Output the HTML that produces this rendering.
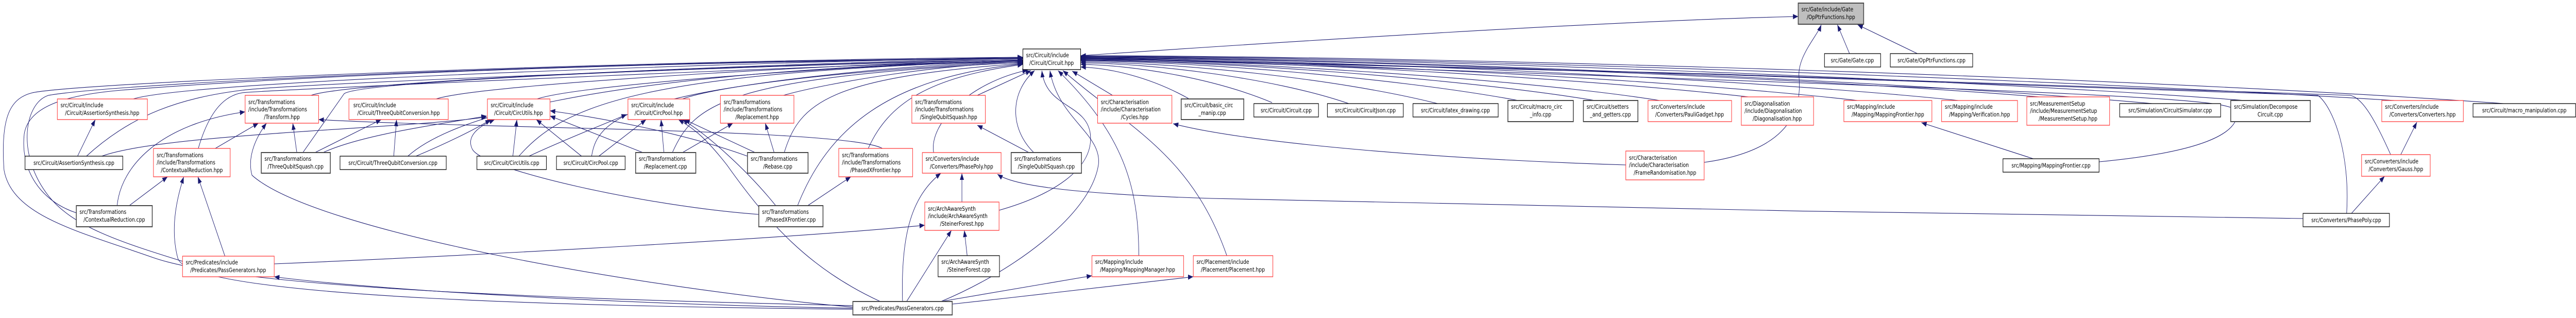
<!DOCTYPE html>
<html><head><meta charset="utf-8">
<style>
html,body{margin:0;padding:0;background:#fff;width:100%;height:100%;overflow:hidden;}
svg{display:block;width:100vw;height:100vh;}
text{font-family:"DejaVu Sans","Liberation Sans",sans-serif;font-size:11.8px;fill:#000;}
.r{fill:#fff;stroke:#ff3b3b;stroke-width:1.3;}
.b{fill:#fff;stroke:#000;stroke-width:1.3;}
.g{fill:#fff;stroke:#4a4a4a;stroke-width:2;}
.f{fill:#bfbfbf;stroke:#4a4a4a;stroke-width:2;}
.e{fill:none;stroke:#191970;stroke-width:1.1;marker-end:url(#a);}
</style></head><body>
<svg viewBox="0 0 6379 617" preserveAspectRatio="none" xmlns="http://www.w3.org/2000/svg">
<defs><marker id="a" markerWidth="14" markerHeight="12" refX="13" refY="5" orient="auto" markerUnits="userSpaceOnUse"><path d="M0,0 L13,5 L0,10z" fill="#191970"/></marker></defs>

<path class="e" d="M330,192 C500,150 2300,112 2533,112"/>
<path class="e" d="M770,185 C900,150 2300,114 2533,114"/>
<path class="e" d="M1080,192 C1200,160 2300,116 2533,116"/>
<path class="e" d="M1330,192 C1450,160 2300,118 2533,118"/>
<path class="e" d="M1690,192 C1800,160 2300,120 2533,120"/>
<path class="e" d="M1940,185 C2050,160 2350,122 2533,122"/>
<path class="e" d="M214,303 C330,220 450,190 600,175 S2300,116 2533,116"/>
<path class="e" d="M252,303 C400,260 1000,250 1205,227"/>
<path class="e" d="M189,413 C100,390 50,330 60,260 C70,210 150,185 300,175 C700,150 1500,120 2533,114"/>
<path class="e" d="M452,507 C300,470 180,440 120,380 C40,300 60,200 120,185 C300,160 1500,118 2533,113"/>
<path class="e" d="M2112,593 C1400,580 600,560 380,500 C200,450 30,420 10,330 C0,220 30,190 80,180 C200,160 1500,118 2533,111"/>
<path class="e" d="M750,296 L852,182 C900,150 2300,116 2533,116"/>
<path class="e" d="M735,296 L725,239"/>
<path class="e" d="M780,296 L944,232"/>
<path class="e" d="M800,296 C900,260 1100,240 1205,225"/>
<path class="e" d="M192,303 L236,232"/>
<path class="e" d="M533,288 L640,239"/>
<path class="e" d="M491,288 C520,210 560,185 600,180 S2300,118 2533,118"/>
<path class="e" d="M320,399 L415,343"/>
<path class="e" d="M290,399 C300,320 400,240 607,217"/>
<path class="e" d="M557,497 L490,343"/>
<path class="e" d="M2112,600 C1500,595 460,580 440,500 C420,440 440,380 455,343"/>
<path class="e" d="M2112,598 C1500,590 900,560 679,537"/>
<path class="e" d="M2112,596 C1600,560 780,450 624,340 C610,300 640,260 660,239"/>
<path class="e" d="M975,303 L982,232"/>
<path class="e" d="M1010,303 C1100,240 1400,140 2533,117"/>
<path class="e" d="M1030,303 C1100,280 1180,250 1215,232"/>
<path class="e" d="M1270,303 L1280,232"/>
<path class="e" d="M1310,303 C1400,270 1500,240 1552,222"/>
<path class="e" d="M1285,303 C1400,200 1600,140 2533,118"/>
<path class="e" d="M1440,303 L1328,232"/>
<path class="e" d="M1483,303 L1600,232"/>
<path class="e" d="M1465,303 C1480,230 1550,160 2533,119"/>
<path class="e" d="M1592,296 L1362,225"/>
<path class="e" d="M1644,296 L1637,232"/>
<path class="e" d="M1690,296 L1815,239"/>
<path class="e" d="M1665,296 C1720,200 1800,150 2533,121"/>
<path class="e" d="M1851,303 C1700,260 1500,230 1362,215"/>
<path class="e" d="M1870,296 L1695,232"/>
<path class="e" d="M1917,296 L1895,239"/>
<path class="e" d="M1942,296 C1980,200 2050,150 2533,123"/>
<path class="e" d="M2000,399 L2107,343"/>
<path class="e" d="M1879,416 C1600,400 1200,330 1170,290 C1150,260 1200,240 1225,232"/>
<path class="e" d="M1921,399 C1850,330 1750,260 1690,232"/>
<path class="e" d="M1975,399 C2050,250 2200,150 2533,124"/>
<path class="e" d="M2150,288 C2200,200 2300,150 2533,125"/>
<path class="e" d="M2185,288 C2100,250 1200,250 789,232"/>
<path class="e" d="M2180,585 C2000,520 1900,430 1800,320 C1750,270 1720,250 1680,232"/>
<path class="e" d="M2312,296 C2300,240 2400,160 2545,136"/>
<path class="e" d="M2420,185 L2553,137"/>
<path class="e" d="M2548,296 L2420,243"/>
<path class="e" d="M2560,296 C2500,250 2500,180 2562,137"/>
<path class="e" d="M2755,185 L2655,138"/>
<path class="e" d="M2382,392 L2382,336"/>
<path class="e" d="M2474,408 C2600,380 2710,330 2700,260 C2690,200 2590,210 2580,137"/>
<path class="e" d="M2245,585 L2356,447"/>
<path class="e" d="M2235,585 C2230,450 2260,380 2330,336"/>
<path class="e" d="M2395,496 L2388,447"/>
<path class="e" d="M2330,585 L2704,535"/>
<path class="e" d="M2358,590 C2600,570 2900,540 2955,537"/>
<path class="e" d="M2330,585 C2500,530 2700,420 2720,320 C2730,260 2620,230 2600,137"/>
<path class="e" d="M679,512 C1200,495 2000,460 2290,437"/>
<path class="e" d="M2820,496 C2820,360 2780,260 2620,137"/>
<path class="e" d="M3038,496 C2950,300 2800,250 2632,137"/>
<path class="e" d="M2945,192 C2850,150 2750,132 2676,130"/>
<path class="e" d="M3150,199 C3000,150 2800,126 2676,125"/>
<path class="e" d="M3340,201 C3150,150 2850,123 2676,122"/>
<path class="e" d="M3560,201 C3300,150 2900,121 2676,120"/>
<path class="e" d="M3760,195 C3450,150 2950,119 2676,118"/>
<path class="e" d="M3950,195 C3600,150 3000,118 2676,117"/>
<path class="e" d="M4110,195 C3750,150 3000,117 2676,116"/>
<path class="e" d="M4330,188 C3900,150 3100,116 2676,115"/>
<path class="e" d="M4600,195 C4100,150 3100,115 2676,114"/>
<path class="e" d="M4850,195 C4300,150 3200,114 2676,113"/>
<path class="e" d="M5050,188 C4450,150 3300,113 2676,112"/>
<path class="e" d="M5330,201 C4600,150 3300,112 2676,111"/>
<path class="e" d="M5560,195 C4800,150 3400,111 2676,110"/>
<path class="e" d="M5930,195 C5000,150 3500,110 2676,109"/>
<path class="e" d="M6200,201 C5300,150 3600,109 2676,108"/>
<path class="e" d="M4026,320 C3600,310 3100,280 2905,240"/>
<path class="e" d="M4220,315 C4450,290 4460,200 4455,150 C4450,110 4500,70 4510,48"/>
<path class="e" d="M4580,104 L4550,48"/>
<path class="e" d="M4748,104 L4600,48"/>
<path class="e" d="M2676,108 C3200,80 4000,40 4453,32"/>
<path class="e" d="M5035,308 L4758,238"/>
<path class="e" d="M5198,314 C5450,295 5540,260 5540,220 C5540,190 5400,185 2676,112"/>
<path class="e" d="M5823,414 L5905,342"/>
<path class="e" d="M5811,414 C5820,300 5780,210 5740,185 C5500,170 3000,115 2676,113"/>
<path class="e" d="M5703,424 C5000,420 3500,395 3000,385 C2600,375 2500,355 2470,338"/>
<path class="e" d="M5945,300 L5985,237"/>
<path class="e" d="M5920,300 C5880,230 5850,190 5820,185 C5500,170 3000,114 2676,112"/>

<rect class="b" x="2533" y="95" width="143" height="40"/><text x="2541" y="111">src/Circuit/include</text><text x="2604" y="126" text-anchor="middle">/Circuit/Circuit.hpp</text>

<rect class="r" x="142" y="192" width="223" height="40"/><text x="150" y="208">src/Circuit/include</text><text x="253" y="223" text-anchor="middle">/Circuit/AssertionSynthesis.hpp</text>
<rect class="r" x="607" y="185" width="182" height="54"/><text x="615" y="202">src/Transformations</text><text x="615" y="216">/include/Transformations</text><text x="698" y="231" text-anchor="middle">/Transform.hpp</text>
<rect class="r" x="864" y="192" width="246" height="40"/><text x="875" y="208">src/Circuit/include</text><text x="987" y="223" text-anchor="middle">/Circuit/ThreeQubitConversion.hpp</text>
<rect class="r" x="1207" y="192" width="155" height="40"/><text x="1215" y="208">src/Circuit/include</text><text x="1284" y="223" text-anchor="middle">/Circuit/CircUtils.hpp</text>
<rect class="r" x="1555" y="192" width="153" height="40"/><text x="1563" y="208">src/Circuit/include</text><text x="1631" y="223" text-anchor="middle">/Circuit/CircPool.hpp</text>
<rect class="r" x="1784" y="185" width="182" height="54"/><text x="1792" y="202">src/Transformations</text><text x="1792" y="216">/include/Transformations</text><text x="1875" y="231" text-anchor="middle">/Replacement.hpp</text>
<rect class="r" x="2258" y="185" width="182" height="54"/><text x="2266" y="202">src/Transformations</text><text x="2266" y="216">/include/Transformations</text><text x="2349" y="231" text-anchor="middle">/SingleQubitSquash.hpp</text>
<rect class="r" x="2718" y="185" width="184" height="54"/><text x="2726" y="202">src/Characterisation</text><text x="2726" y="216">/include/Characterisation</text><text x="2810" y="231" text-anchor="middle">/Cycles.hpp</text>
<rect class="g" x="2925" y="192" width="155" height="40"/><text x="2933" y="208">src/Circuit/basic_circ</text><text x="3002" y="223" text-anchor="middle">_manip.cpp</text>
<rect class="b" x="3105" y="201" width="160" height="26"/><text x="3185" y="218" text-anchor="middle">src/Circuit/Circuit.cpp</text>
<rect class="b" x="3287" y="201" width="188" height="26"/><text x="3381" y="218" text-anchor="middle">src/Circuit/CircuitJson.cpp</text>
<rect class="b" x="3499" y="201" width="211" height="26"/><text x="3604" y="218" text-anchor="middle">src/Circuit/latex_drawing.cpp</text>
<rect class="g" x="3734" y="195" width="162" height="41"/><text x="3742" y="211">src/Circuit/macro_circ</text><text x="3815" y="226" text-anchor="middle">_info.cpp</text>
<rect class="g" x="3921" y="195" width="135" height="41"/><text x="3929" y="211">src/Circuit/setters</text><text x="3988" y="226" text-anchor="middle">_and_getters.cpp</text>
<rect class="r" x="4081" y="195" width="207" height="41"/><text x="4089" y="211">src/Converters/include</text><text x="4184" y="226" text-anchor="middle">/Converters/PauliGadget.hpp</text>
<rect class="r" x="4312" y="188" width="179" height="55"/><text x="4320" y="205">src/Diagonalisation</text><text x="4320" y="219">/include/Diagonalisation</text><text x="4401" y="234" text-anchor="middle">/Diagonalisation.hpp</text>
<rect class="r" x="4566" y="195" width="218" height="41"/><text x="4574" y="211">src/Mapping/include</text><text x="4675" y="226" text-anchor="middle">/Mapping/MappingFrontier.hpp</text>
<rect class="r" x="4808" y="195" width="188" height="41"/><text x="4816" y="211">src/Mapping/include</text><text x="4902" y="226" text-anchor="middle">/Mapping/Verification.hpp</text>
<rect class="r" x="5019" y="188" width="205" height="55"/><text x="5027" y="205">src/MeasurementSetup</text><text x="5027" y="219">/include/MeasurementSetup</text><text x="5121" y="234" text-anchor="middle">/MeasurementSetup.hpp</text>
<rect class="b" x="5249" y="201" width="250" height="26"/><text x="5374" y="218" text-anchor="middle">src/Simulation/CircuitSimulator.cpp</text>
<rect class="g" x="5524" y="195" width="197" height="41"/><text x="5532" y="211">src/Simulation/Decompose</text><text x="5622" y="226" text-anchor="middle">Circuit.cpp</text>
<rect class="r" x="5898" y="195" width="202" height="41"/><text x="5906" y="211">src/Converters/include</text><text x="5999" y="226" text-anchor="middle">/Converters/Converters.hpp</text>
<rect class="b" x="6124" y="201" width="254" height="26"/><text x="6251" y="218" text-anchor="middle">src/Circuit/macro_manipulation.cpp</text>
<rect class="f" x="4453" y="6" width="162" height="41"/><text x="4461" y="22">src/Gate/include/Gate</text><text x="4534" y="37" text-anchor="middle">/OpPtrFunctions.hpp</text>
<rect class="b" x="4518" y="104" width="139" height="26"/><text x="4587" y="121" text-anchor="middle">src/Gate/Gate.cpp</text>
<rect class="b" x="4681" y="104" width="204" height="26"/><text x="4783" y="121" text-anchor="middle">src/Gate/OpPtrFunctions.cpp</text>

<rect class="b" x="62" y="303" width="242" height="26"/><text x="183" y="320" text-anchor="middle">src/Circuit/AssertionSynthesis.cpp</text>
<rect class="r" x="380" y="288" width="190" height="55"/><text x="388" y="305">src/Transformations</text><text x="388" y="319">/include/Transformations</text><text x="475" y="334" text-anchor="middle">/ContextualReduction.hpp</text>
<rect class="g" x="647" y="296" width="171" height="40"/><text x="655" y="312">src/Transformations</text><text x="732" y="327" text-anchor="middle">/ThreeQubitSquash.cpp</text>
<rect class="b" x="842" y="303" width="263" height="26"/><text x="973" y="320" text-anchor="middle">src/Circuit/ThreeQubitConversion.cpp</text>
<rect class="b" x="1181" y="303" width="172" height="26"/><text x="1267" y="320" text-anchor="middle">src/Circuit/CircUtils.cpp</text>
<rect class="b" x="1378" y="303" width="170" height="26"/><text x="1463" y="320" text-anchor="middle">src/Circuit/CircPool.cpp</text>
<rect class="g" x="1574" y="296" width="149" height="40"/><text x="1582" y="312">src/Transformations</text><text x="1648" y="327" text-anchor="middle">/Replacement.cpp</text>
<rect class="g" x="1851" y="296" width="150" height="40"/><text x="1859" y="312">src/Transformations</text><text x="1926" y="327" text-anchor="middle">/Rebase.cpp</text>
<rect class="r" x="2077" y="288" width="183" height="55"/><text x="2085" y="305">src/Transformations</text><text x="2085" y="319">/include/Transformations</text><text x="2168" y="334" text-anchor="middle">/PhasedXFrontier.hpp</text>
<rect class="r" x="2284" y="296" width="195" height="40"/><text x="2292" y="312">src/Converters/include</text><text x="2381" y="327" text-anchor="middle">/Converters/PhasePoly.hpp</text>
<rect class="g" x="2504" y="296" width="174" height="40"/><text x="2512" y="312">src/Transformations</text><text x="2591" y="327" text-anchor="middle">/SingleQubitSquash.cpp</text>
<rect class="r" x="4026" y="293" width="194" height="56"/><text x="4034" y="310">src/Characterisation</text><text x="4034" y="324">/include/Characterisation</text><text x="4123" y="339" text-anchor="middle">/FrameRandomisation.hpp</text>
<rect class="b" x="4960" y="308" width="238" height="26"/><text x="5079" y="325" text-anchor="middle">src/Mapping/MappingFrontier.cpp</text>
<rect class="r" x="5848" y="300" width="170" height="42"/><text x="5856" y="317">src/Converters/include</text><text x="5933" y="332" text-anchor="middle">/Converters/Gauss.hpp</text>

<rect class="g" x="189" y="399" width="188" height="41"/><text x="197" y="415">src/Transformations</text><text x="283" y="430" text-anchor="middle">/ContextualReduction.cpp</text>
<rect class="g" x="1879" y="399" width="159" height="41"/><text x="1887" y="415">src/Transformations</text><text x="1958" y="430" text-anchor="middle">/PhasedXFrontier.cpp</text>
<rect class="r" x="2290" y="392" width="184" height="55"/><text x="2298" y="409">src/ArchAwareSynth</text><text x="2298" y="423">/include/ArchAwareSynth</text><text x="2382" y="438" text-anchor="middle">/SteinerForest.hpp</text>
<rect class="b" x="5703" y="414" width="214" height="26"/><text x="5810" y="431" text-anchor="middle">src/Converters/PhasePoly.cpp</text>

<rect class="r" x="452" y="497" width="227" height="40"/><text x="460" y="513">src/Predicates/include</text><text x="565" y="528" text-anchor="middle">/Predicates/PassGenerators.hpp</text>
<rect class="b" x="2323" y="496" width="152" height="41"/><text x="2331" y="512">src/ArchAwareSynth</text><text x="2399" y="527" text-anchor="middle">/SteinerForest.cpp</text>
<rect class="r" x="2704" y="496" width="227" height="41"/><text x="2712" y="512">src/Mapping/include</text><text x="2817" y="527" text-anchor="middle">/Mapping/MappingManager.hpp</text>
<rect class="r" x="2955" y="496" width="197" height="41"/><text x="2963" y="512">src/Placement/include</text><text x="3053" y="527" text-anchor="middle">/Placement/Placement.hpp</text>

<rect class="g" x="2112" y="585" width="246" height="26"/><text x="2235" y="602" text-anchor="middle">src/Predicates/PassGenerators.cpp</text>
</svg>
</body></html>
